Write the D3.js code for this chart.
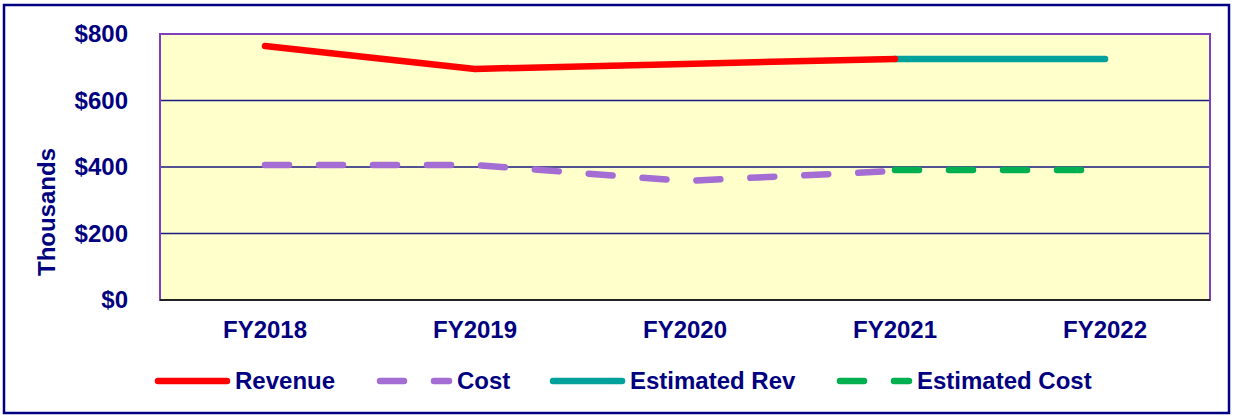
<!DOCTYPE html>
<html>
<head>
<meta charset="utf-8">
<script src="https://cdn.jsdelivr.net/npm/d3@7"></script>
<style>
  body { margin: 0; background: #fff; }
  text { font-family: "Liberation Sans", Arial, sans-serif; font-weight: bold; fill: #000080; }
</style>
</head>
<body>
<div id="chart"></div>
<script>
// data (thousands of $)
var years = ["FY2018", "FY2019", "FY2020", "FY2021", "FY2022"];
var revenue = [764, 695, 710, 725, null];
var cost = [406, 406, 358, 388, null];
var estRev = [null, null, null, 725, 725];
var estCost = [null, null, null, 391, 391];
var yTicks = [0, 200, 400, 600, 800];

var W = 1234, H = 417;
var margin = {top: 34, right: 24, bottom: 117, left: 160},
    width = W - margin.left - margin.right,
    height = H - margin.top - margin.bottom;

var svg = d3.select("#chart").append("svg")
  .attr("width", W).attr("height", H);

// outer frame
svg.append("rect")
  .attr("x", 4).attr("y", 5).attr("width", W - 9).attr("height", H - 9)
  .attr("fill", "#fff").attr("stroke", "#000080").attr("stroke-width", 2.5);

var g = svg.append("g").attr("transform", "translate(" + margin.left + "," + margin.top + ")");

var x = d3.scaleBand().domain(years).range([0, width]);
var y = d3.scaleLinear().domain([0, 800]).range([height, 0]);
function cx(d) { return x(d) + x.bandwidth() / 2; }

g.append("rect").attr("width", width).attr("height", height).attr("fill", "#FFFFCC");

// gridlines
g.selectAll(".grid").data(yTicks.filter(function(t){ return t > 0 && t < 800; }))
  .enter().append("line")
  .attr("x1", 0).attr("x2", width)
  .attr("y1", function(d){ return y(d); }).attr("y2", function(d){ return y(d); })
  .attr("stroke", "#1a1a80").attr("stroke-width", 1.3);

// plot border
g.append("rect").attr("width", width).attr("height", height)
  .attr("fill", "none").attr("stroke", "#7F40BF").attr("stroke-width", 2);
g.append("line").attr("x1", 0).attr("x2", width).attr("y1", height).attr("y2", height)
  .attr("stroke", "#222").attr("stroke-width", 2);

// y tick labels
g.selectAll(".ytick").data(yTicks).enter().append("text")
  .attr("x", -32).attr("y", function(d){ return y(d); })
  .attr("dy", "0.35em").attr("text-anchor", "end")
  .style("font-size", "24px")
  .text(function(d){ return "$" + d; });

// x tick labels
g.selectAll(".xtick").data(years).enter().append("text")
  .attr("x", cx).attr("y", height + 30).attr("dy", "0.35em")
  .attr("text-anchor", "middle").style("font-size", "24px")
  .text(function(d){ return d; });

svg.append("text")
  .attr("transform", "translate(47," + (margin.top + height / 2 + 45) + ") rotate(-90)")
  .attr("text-anchor", "middle").attr("dy", "0.35em").style("font-size", "24px")
  .text("Thousands");

var series = [
  {name: "Revenue", values: revenue, color: "#FF0000", dash: null},
  {name: "Cost", values: cost, color: "#A36DD4", dash: "24,30"},
  {name: "Estimated Rev", values: estRev, color: "#00A19A", dash: null},
  {name: "Estimated Cost", values: estCost, color: "#00B050", dash: "24,30"}
];

var line = d3.line()
  .defined(function(d){ return d.v != null; })
  .x(function(d){ return cx(d.k); })
  .y(function(d){ return y(d.v); });

// estimates drawn first so the actual lines sit on top where they meet
g.selectAll(".series").data(series.slice().reverse()).enter().append("path")
  .attr("d", function(s){ return line(years.map(function(k, i){ return {k: k, v: s.values[i]}; })); })
  .attr("fill", "none")
  .attr("stroke", function(s){ return s.color; })
  .attr("stroke-width", 6.5)
  .attr("stroke-linecap", "round")
  .attr("stroke-linejoin", "round")
  .attr("stroke-dasharray", function(s){ return s.dash; });

// legend
var legX = [158, 380, 553, 840];
var leg = svg.selectAll(".leg").data(series).enter().append("g")
  .attr("transform", function(d, i){ return "translate(" + legX[i] + ",381)"; });
leg.append("line")
  .attr("x1", 0).attr("x2", 69).attr("y1", 0).attr("y2", 0)
  .attr("stroke", function(s){ return s.color; })
  .attr("stroke-width", 6.5)
  .attr("stroke-linecap", "round")
  .attr("stroke-dasharray", function(s){ return s.dash; });
leg.append("text")
  .attr("x", 77).attr("dy", "0.35em").style("font-size", "24px")
  .text(function(s){ return s.name; });
</script>
</body>
</html>
